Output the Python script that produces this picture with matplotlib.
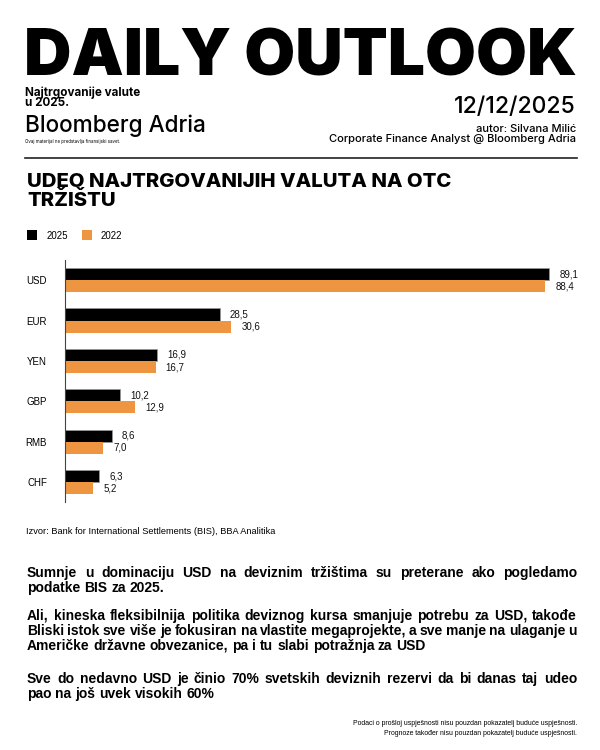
import matplotlib
matplotlib.use("Agg")
import matplotlib.pyplot as plt
from matplotlib.patches import Rectangle
from matplotlib.lines import Line2D
from matplotlib.font_manager import FontProperties

# ---------------- data ----------------
categories = ["USD", "EUR", "YEN", "GBP", "RMB", "CHF"]
share_2025 = [89.1, 28.5, 16.9, 10.2, 8.6, 6.3]
share_2022 = [88.4, 30.6, 16.7, 12.9, 7.0, 5.2]
series_names = ["2025", "2022"]

headline = "DAILY OUTLOOK"
subtitle_lines = ["Najtrgovanije valute", "u 2025."]
brand = "Bloomberg Adria"
disclaimer = "Ovaj materijal ne predstavlja finansijski savet."
date_text = "12/12/2025"
author_lines = ["autor: Silvana Milić", "Corporate Finance Analyst @ Bloomberg Adria"]
chart_title = ["UDEO NAJTRGOVANIJIH VALUTA NA OTC", "TRŽIŠTU"]
source_text = "Izvor: Bank for International Settlements (BIS), BBA Analitika"
paragraphs = [
    ["Sumnje u dominaciju USD na deviznim tržištima su preterane ako pogledamo",
     "podatke BIS za 2025."],
    ["Ali, kineska fleksibilnija politika deviznog kursa smanjuje potrebu za USD, takođe",
     "Bliski istok sve više je fokusiran na vlastite megaprojekte, a sve manje na ulaganje u",
     "Američke državne obvezanice, pa i tu slabi potražnja za USD"],
    ["Sve do nedavno USD je činio 70% svetskih deviznih rezervi da bi danas taj udeo",
     "pao na još uvek visokih 60%"],
]
footer_lines = ["Podaci o prošloj uspješnosti nisu pouzdan pokazatelj buduće uspješnosti.",
                "Prognoze također nisu pouzdan pokazatelj buduće uspješnosti."]

C_2025 = "#000000"
C_2022 = "#EE9541"

FONT = ["Liberation Sans", "DejaVu Sans"]
INTER = ["Inter", "Liberation Sans", "DejaVu Sans"]

W, H = 600, 750
fig = plt.figure(figsize=(6, 7.5), dpi=100)
fig.patch.set_facecolor("white")
renderer = fig.canvas.get_renderer()


def fx(x):
    return x / W


def fy(y):
    return 1 - y / H


def fprops(fs, weight, family):
    return FontProperties(family=family, weight=weight, size=fs)


def text_width(s, fs, weight="normal", family=FONT):
    t = fig.text(0, 0, s, fontsize=fs, fontweight=weight, family=family)
    w = t.get_window_extent(renderer).width
    t.remove()
    return w


def fit_fs(s, target, weight="normal", family=FONT, fs0=10):
    w = text_width(s, fs0, weight, family)
    return fs0 * target / w


def put(s, x, y, fs, weight="normal", family=FONT, ha="left", color="black"):
    return fig.text(fx(x), fy(y), s, fontsize=fs, fontweight=weight, family=family,
                    ha=ha, va="baseline", color=color)


def put_fit(s, x, y, width, weight="normal", family=FONT, ha="left"):
    fs = fit_fs(s, width, weight, family)
    return put(s, x, y, fs, weight, family, ha)


def put_two(lines, x, y_first, fs, spacing, weight="normal", family=FONT, ha="left"):
    """Two-line text as one object; baselines at y_first and y_first+spacing (px)."""
    fp = fprops(fs, weight, family)
    _, lh, ld = renderer.get_text_width_height_descent("lp", fp, ismath=False)
    _, h1, d1 = renderer.get_text_width_height_descent(lines[0], fp, ismath=False)
    _, h2, d2 = renderer.get_text_width_height_descent(lines[1], fp, ismath=False)
    d1 = max(d1, ld)
    hd2 = max(h2, lh) - max(d2, ld)
    hd2 = max(hd2, lh - ld)
    ls = (spacing - d1) / hd2
    # va='baseline' anchors the baseline of the last line
    return fig.text(fx(x), fy(y_first + spacing), "\n".join(lines), fontsize=fs,
                    fontweight=weight, family=family, ha=ha, va="baseline",
                    multialignment=ha, linespacing=ls)


# ---------------- header ----------------
put_fit(headline, 24, 75, 552, weight="black", family=INTER)

fs_sub = fit_fs(subtitle_lines[0], 115, "bold", INTER)
put_two(subtitle_lines, 25, 96, fs_sub, 10, "bold", INTER)

put_fit(brand, 25, 132, 181, weight="medium", family=INTER)
put_fit(disclaimer, 25, 143, 95, family=INTER)

put_fit(date_text, 576, 113, 122, weight="medium", family=INTER, ha="right")
fs_auth = fit_fs(author_lines[1], 248, "medium", INTER)
put_two(author_lines, 576, 132, fs_auth, 10, "medium", INTER, ha="right")

fig.add_artist(Line2D([fx(25), fx(577)], [fy(158), fy(158)], color="#222222", lw=1.2))

# ---------------- chart title & legend ----------------
fs_title = fit_fs(chart_title[0], 426, "heavy", INTER)
put_two(chart_title, 27, 187, fs_title, 19, "heavy", INTER)

for sx, tx, name, col in [(27, 47, series_names[0], C_2025), (82, 101, series_names[1], C_2022)]:
    fig.add_artist(Rectangle((fx(sx), fy(240)), 10 / W, 10 / H, transform=fig.transFigure,
                             facecolor=col, edgecolor="none"))
    put(name, tx, 239, 7)

# ---------------- bar chart ----------------
ax_left, ax_right, ax_top, ax_bot = 65, 580, 260, 502.3
ax = fig.add_axes([fx(ax_left), fy(ax_bot), (ax_right - ax_left) / W, (ax_bot - ax_top) / H])
px_per_unit = (549.3 - 65) / 89.1
ax.set_xlim(0, (ax_right - ax_left) / px_per_unit)
ax.set_ylim(len(categories) - 0.5, -0.5)

h = 0.30
ypos = list(range(len(categories)))
ax.barh([y - h / 2 for y in ypos], share_2025, height=h, color=C_2025,
        edgecolor="#9a9a9a", linewidth=0.5)
ax.barh([y + h / 2 for y in ypos], share_2022, height=h, color=C_2022, linewidth=0)


def fmt(v):
    return f"{v:.1f}".replace(".", ",")


for vals, offs in [(share_2025, -h / 2), (share_2022, h / 2)]:
    for y, v in zip(ypos, vals):
        ax.annotate(fmt(v), xy=(v, y + offs), xytext=(7.2, 0), textcoords="offset points",
                    va="center", ha="left", fontsize=7, family=FONT, color="#111111")

ax.set_yticks(ypos)
ax.set_yticklabels(categories, fontsize=7, family=FONT)
ax.tick_params(axis="y", length=0, pad=13)
ax.set_xticks([])
for s in ["top", "right", "bottom"]:
    ax.spines[s].set_visible(False)
ax.spines["left"].set_color("#444444")
ax.spines["left"].set_linewidth(0.8)
ax.set_facecolor("none")

# ---------------- source ----------------
put_fit(source_text, 26, 534.5, 248)

# ---------------- body paragraphs (justified) ----------------
fs_body = fit_fs(paragraphs[1][2], 398, "bold")
space_w = text_width("a a", fs_body, "bold") - text_width("aa", fs_body, "bold")


def place_line(line, x0, y, x1=None):
    words = line.split(" ")
    widths = [text_width(wd, fs_body, "bold") for wd in words]
    if x1 is not None and len(words) > 1:
        gap = (x1 - x0 - sum(widths)) / (len(words) - 1)
    else:
        gap = space_w
    x = x0
    for wd, wdt in zip(words, widths):
        put(wd, x, y, fs_body, "bold")
        x += wdt + gap


baselines = [[577, 592], [620, 635, 650], [683, 698]]
for para, ys in zip(paragraphs, baselines):
    for i, (line, y) in enumerate(zip(para, ys)):
        last = i == len(para) - 1
        place_line(line, 27, y, None if last else 577)

# ---------------- footer ----------------
fs_foot = fit_fs(footer_lines[0], 224)
put_two(footer_lines, 577, 725, fs_foot, 10, "normal", FONT, ha="right")

fig.savefig("out.png", dpi=100, facecolor="white")
